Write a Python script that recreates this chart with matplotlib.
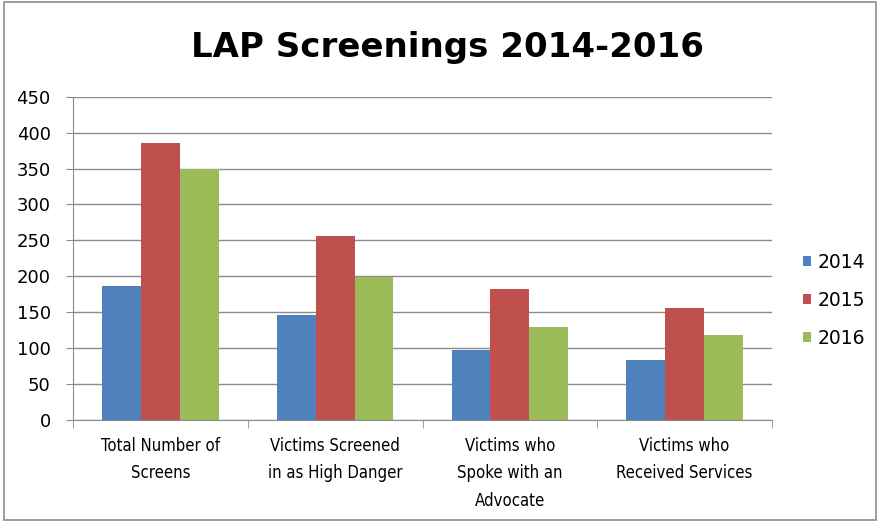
import numpy as np
import matplotlib
matplotlib.use("Agg")
import matplotlib.pyplot as plt
from matplotlib.patches import Rectangle

# data
categories = ["Total Number of\nScreens", "Victims Screened\nin as High Danger",
              "Victims who\nSpoke with an\nAdvocate", "Victims who\nReceived Services"]
years = ["2014", "2015", "2016"]
vals_2014 = [186, 146, 97, 83]
vals_2015 = [386, 256, 183, 156]
vals_2016 = [350, 199, 129, 118]
colors = ["#4F81BD", "#C0504D", "#9BBB59"]

plt.rcParams['font.family'] = ['DejaVu Sans']

fig = plt.figure(figsize=(8.8, 5.22), dpi=100)
ax = fig.add_axes([73/880, (522-420)/522, (772-73)/880, (420-96.7)/522])

x = np.arange(len(categories))
w = 1/4.5
for i, (vals, c, yr) in enumerate(zip([vals_2014, vals_2015, vals_2016], colors, years)):
    ax.bar(x + (i-1)*w, vals, width=w, color=c, label=yr, zorder=3)

ax.set_xlim(-0.5, 3.5)
ax.set_ylim(0, 450)
ax.set_yticks(np.arange(0, 451, 50))
ax.grid(axis='y', color='#8c8c8c', linewidth=1, zorder=0)

for side in ['top', 'right']:
    ax.spines[side].set_visible(False)
for side in ['left', 'bottom']:
    ax.spines[side].set_color('#8c8c8c')

ax.set_xticks(x)
ax.set_xticklabels(categories, fontsize=12, fontstretch='condensed', linespacing=1.7)
ax.set_xticks(np.arange(-0.5, 3.6, 1), minor=True)
ax.tick_params(axis='x', which='major', length=0, pad=12)
ax.tick_params(axis='x', which='minor', length=6, color='#8c8c8c')
ax.tick_params(axis='y', length=5, color='#8c8c8c', labelsize=13, pad=11)

fig.text(447/880, 1 - 47/522, "LAP Screenings 2014-2016", fontsize=24.5,
         fontweight='bold', ha='center', va='center')

ax.legend(loc='center left', bbox_to_anchor=(1.02, 0.37), frameon=False,
          fontsize=13.5, handlelength=0.45, handleheight=0.45, handletextpad=0.35,
          labelspacing=1.0)

fig.patches.append(Rectangle((0.005, 0.004), 0.99, 0.992, transform=fig.transFigure,
                             fill=False, edgecolor='#8c8c8c', linewidth=1.2))

fig.savefig("out.png", dpi=100)
